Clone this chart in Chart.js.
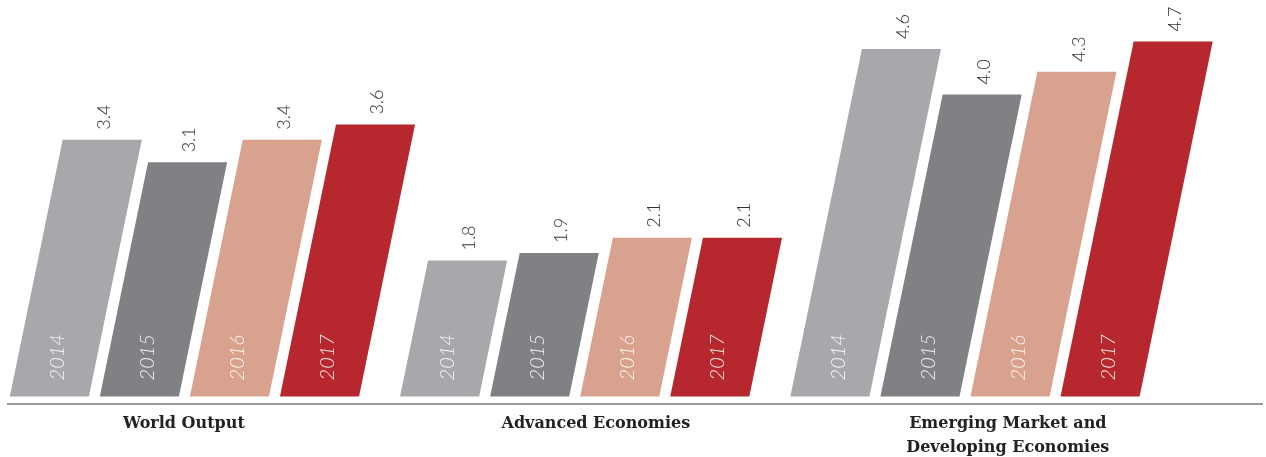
<!DOCTYPE html>
<html>
<head>
<meta charset="utf-8">
<script src="https://cdn.jsdelivr.net/npm/chart.js@4.4.1/dist/chart.umd.min.js"></script>
<style>
  html, body { margin: 0; padding: 0; background: #fff; }
  canvas { display: block; }
</style>
</head>
<body>
<canvas id="growthChart" width="1266" height="457"></canvas>
<script>
// data
const regions = ['World Output', 'Advanced Economies', ['Emerging Market and', 'Developing Economies']];
const years = ['2014', '2015', '2016', '2017'];
const growth2014 = [3.4, 1.8, 4.6];
const growth2015 = [3.1, 1.9, 4.0];
const growth2016 = [3.4, 2.1, 4.3];
const growth2017 = [3.6, 2.1, 4.7];

const seriesValues = [growth2014, growth2015, growth2016, growth2017];
const colors = ['#a7a8ab', '#808184', '#d9a28e', '#b7282e'];
const SLANT = 0.206; // horizontal shift per pixel of bar height

const datasets = years.map((yr, i) => ({
  label: yr,
  data: seriesValues[i].map((v, j) => ({ x: j, y: v })),
  backgroundColor: colors[i],
  xAxisID: 'x',
  yAxisID: 'y'
}));

const regionTicks = (scale) => {
  scale.ticks = regions.map((r, i) => ({ value: i }));
};

// draws each bar as a slanted parallelogram, plus the labels
const slantBars = {
  id: 'slantBars',
  beforeDatasetDraw(chart, args) {
    const ctx = chart.ctx;
    ctx.save();
    ctx.fillStyle = colors[args.index];
    args.meta.data.forEach(el => {
      const b = el.getProps(['x', 'y', 'base', 'width'], true);
      const dx = (b.base - b.y) * SLANT;
      const l = b.x - b.width / 2;
      const r = b.x + b.width / 2;
      ctx.beginPath();
      ctx.moveTo(l, b.base);
      ctx.lineTo(r, b.base);
      ctx.lineTo(r + dx, b.y);
      ctx.lineTo(l + dx, b.y);
      ctx.closePath();
      ctx.fill();
    });
    ctx.restore();
    return false;
  },
  afterDatasetsDraw(chart) {
    const ctx = chart.ctx;
    chart.data.datasets.forEach((ds, i) => {
      const meta = chart.getDatasetMeta(i);
      meta.data.forEach((el, j) => {
        const b = el.getProps(['x', 'y', 'base', 'width'], true);
        const dx = (b.base - b.y) * SLANT;

        // value above the bar
        ctx.save();
        ctx.translate(b.x + dx + 2, b.y - 10);
        ctx.rotate(-Math.PI / 2);
        ctx.font = '300 18px Lato';
        ctx.fillStyle = '#333';
        ctx.textAlign = 'left';
        ctx.textBaseline = 'middle';
        ctx.fillText(ds.data[j].y.toFixed(1), 0, 0);
        ctx.restore();

        // year inside the bar
        ctx.save();
        ctx.translate(b.x + 40 * SLANT, b.base - 16);
        ctx.rotate(-Math.PI / 2);
        ctx.font = 'italic 300 20px Lato';
        ctx.fillStyle = 'rgba(255,255,255,0.88)';
        ctx.textAlign = 'left';
        ctx.textBaseline = 'middle';
        ctx.fillText(ds.label, 0, 0);
        ctx.restore();
      });
    });
  }
};

new Chart(document.getElementById('growthChart'), {
  type: 'bar',
  data: { datasets },
  options: {
    responsive: false,
    animation: false,
    layout: { padding: { left: 8, right: 4, top: 0, bottom: 0 } },
    categoryPercentage: 0.923,
    barPercentage: 0.878,
    plugins: {
      legend: { display: false },
      tooltip: { enabled: false }
    },
    scales: {
      x: {
        type: 'linear',
        display: false,
        offset: false,
        min: -0.452,
        max: 2.761,
        afterBuildTicks: regionTicks
      },
      xl: {
        type: 'linear',
        position: 'bottom',
        offset: false,
        min: -0.427,
        max: 2.617,
        afterBuildTicks: regionTicks,
        afterFit: (scale) => { scale.height = 53; },
        grid: { display: false, drawTicks: false },
        border: { display: true, color: '#9a9a9a', width: 2 },
        ticks: {
          padding: 7,
          maxRotation: 0,
          autoSkip: false,
          color: '#222',
          font: { family: '"DejaVu Serif"', weight: 'bold', size: 16, lineHeight: 1.55 },
          callback: (v) => regions[v]
        }
      },
      y: {
        display: false,
        min: -0.1,
        max: 5.25
      }
    }
  },
  plugins: [slantBars]
});
</script>
</body>
</html>
